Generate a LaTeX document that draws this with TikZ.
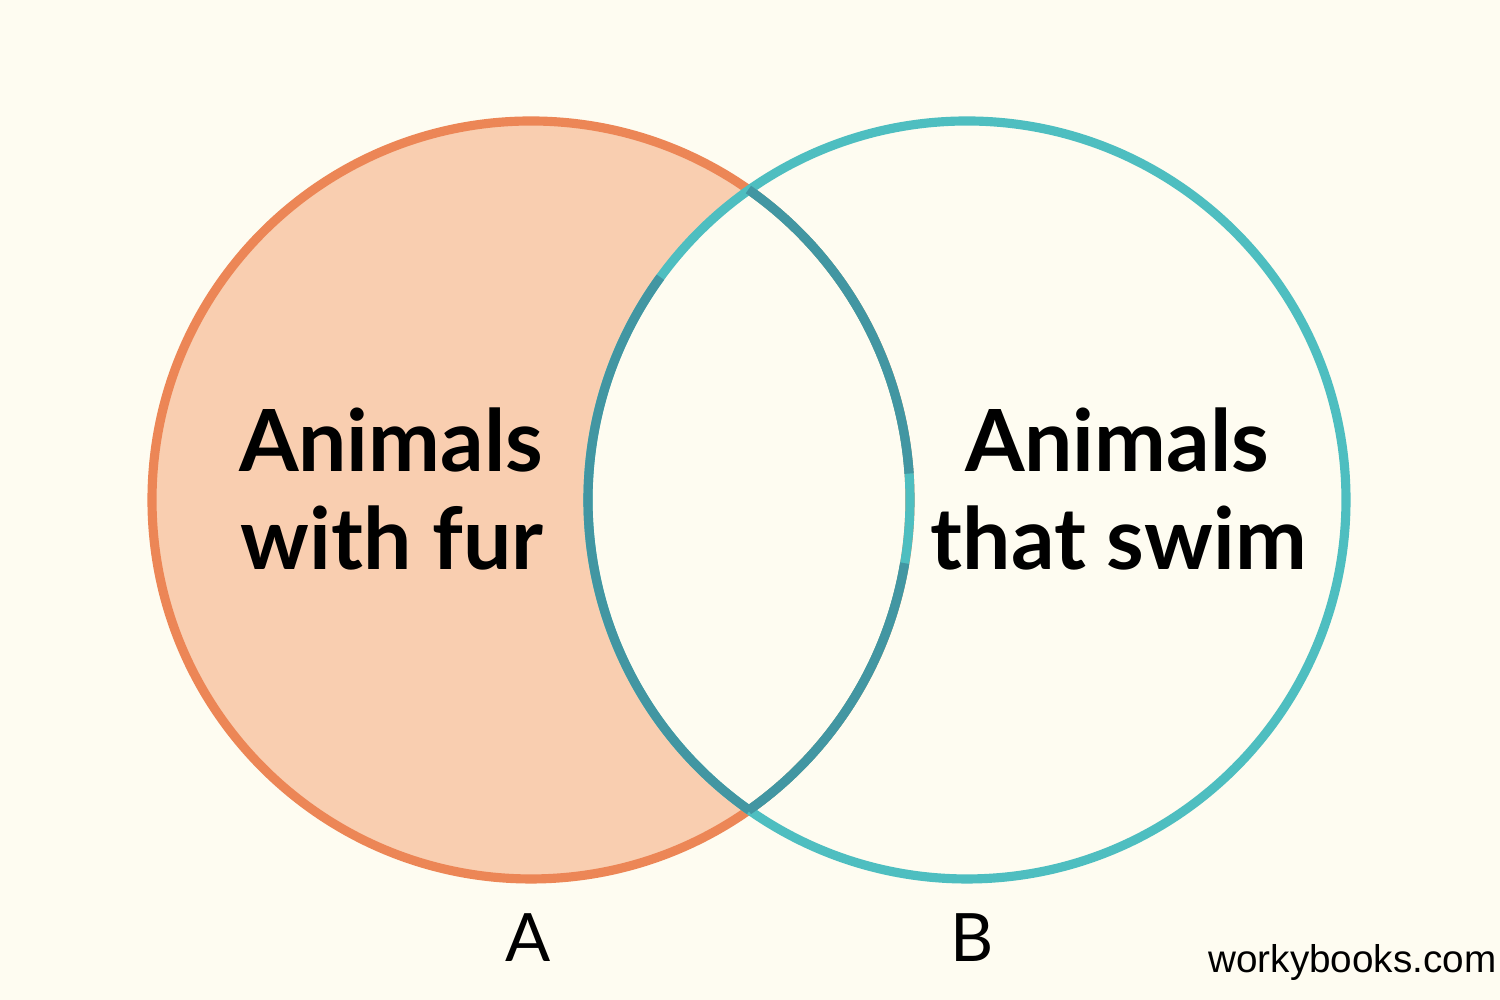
\documentclass[tikz,border=0pt]{standalone}
\usepackage{fontspec}
\setmainfont{Lato}
\newfontfamily\markfont{Liberation Sans}
\usepackage{xcolor}
\usepackage{tikz}
\usetikzlibrary{calc}
\usetikzlibrary{backgrounds}

\definecolor{paper}{HTML}{FEFCF1}
\definecolor{furline}{HTML}{EC8656}
\definecolor{furfill}{HTML}{F9CEB0}
\definecolor{swimline}{HTML}{4EBEC0}
\definecolor{bothline}{HTML}{4296A2}

\begin{document}
\begin{tikzpicture}[transform shape,scale=1]
	\tikzset{ring/.style={line width=2.6pt},
		setname/.style={font=\fontsize{24.4}{28}\selectfont\bfseries,anchor=base,inner sep=0pt},
		setletter/.style={font=\fontsize{19}{22}\selectfont,anchor=base,inner sep=0pt}}
	\fill[paper] (0,0) rectangle (15,10);
	\useasboundingbox (0,0) rectangle (15,10);
	\coordinate (A) at (5.31,5.00);
	\coordinate (B) at (9.67,5.00);
	% only A is shaded, the overlap stays blank
	\fill[furfill] (A) circle (3.79);
	\begin{scope}
		\clip (A) circle (3.79);
		\fill[paper] (B) circle (3.79);
	\end{scope}
	\draw[ring,furline] (A) circle (3.79);
	\draw[ring,swimline] (B) circle (3.79);
	% arcs inside the overlap
	\draw[ring,swimline] ($(A)+(55:3.79)$) arc (55:-55:3.79);
	\draw[ring,bothline] ($(A)+(55:3.79)$) arc (55:4:3.79);
	\draw[ring,bothline] ($(A)+(-9.6:3.79)$) arc (-9.6:-55:3.79);
	\draw[ring,bothline] ($(B)+(144:3.79)$) arc (144:235:3.79);
	\node[setname] (fur1) at (3.91,5.28) {Animals};
	\node[setname] (fur2) at (3.92,4.30) {with fur};
	\node[setname] (swim1) at (11.17,5.28) {Animals};
	\node[setname] (swim2) at (11.19,4.30) {that swim};
	\node[setletter] (labA) at (5.28,0.38) {A};
	\node[setletter] (labB) at (9.72,0.38) {B};
	\node[anchor=base east,inner sep=0pt,font=\markfont\fontsize{11}{13}\selectfont] (mark) at (14.97,0.27) {workybooks.com};
\end{tikzpicture}
\end{document}
